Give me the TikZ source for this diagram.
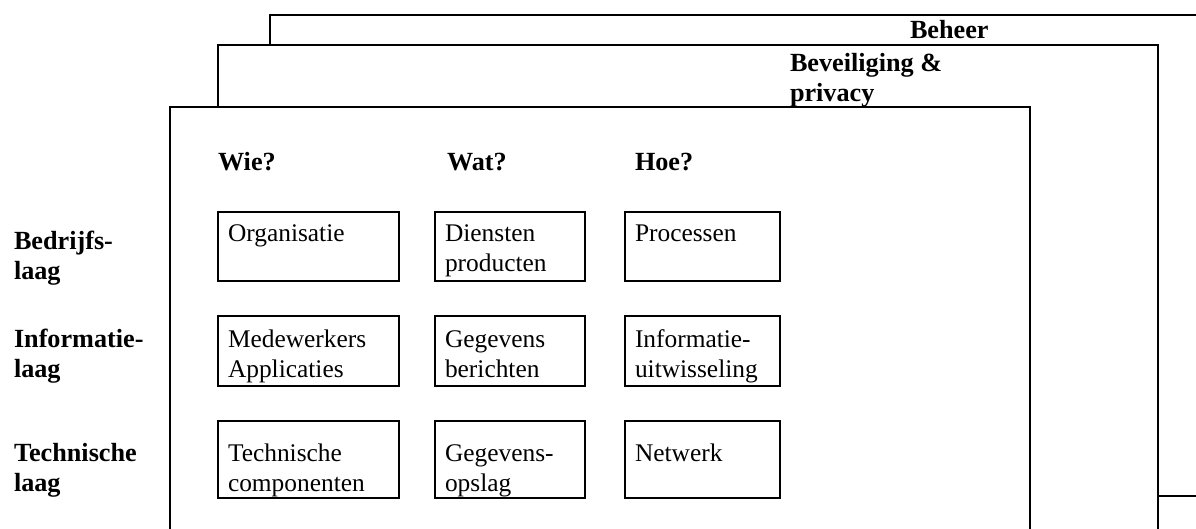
\documentclass[tikz,border=0pt]{standalone}
\usepackage{fontspec}
\setmainfont{Liberation Serif}
\newcommand\st{\rule{0pt}{9.6pt}}
\begin{document}
\begin{tikzpicture}[x=0.5pt,y=-0.5pt,
  frame/.style={draw,line width=1.1pt,fill=white},
  cell/.style={draw,line width=1.1pt,anchor=north west,inner sep=0pt,outer sep=0pt},
  txt/.style={anchor=north west,inner sep=0pt,outer sep=0pt,align=left,font=\fontsize{12.7}{14.7}\selectfont},
  head/.style={txt,font=\fontsize{13.1}{14.7}\selectfont\bfseries},
  w1/.style={minimum width=90.5pt},
  w2/.style={minimum width=75pt},
  w3/.style={minimum width=77.5pt},
  h1/.style={minimum height=34.5pt},
  h2/.style={minimum height=35pt},
  h3/.style={minimum height=38.5pt}]
\useasboundingbox (0,0) rectangle (1196,529);
\clip (0,0) rectangle (1196,529);
% stacked frames
\draw[frame] (270,15) rectangle (1230,496);
\draw[frame] (218,45) rectangle (1158,580);
\draw[frame] (170,107) rectangle (1030,580);
% frame titles
\node[head] (beheer) at (910,19.8) {\st Beheer};
\node[head] (bev) at (790,52.8) {\st Beveiliging \&\\privacy};
% column heads
\node[head] (wie) at (218,151.8) {\st Wie?};
\node[head] (wat) at (447,151.8) {\st Wat?};
\node[head] (hoe) at (635,151.8) {\st Hoe?};
% row heads
\node[head] (r1) at (14,230.8) {\st Bedrijfs-\\laag};
\node[head] (r2) at (14,328.8) {\st Informatie-\\laag};
\node[head] (r3) at (14,442.8) {\st Technische\\laag};
% cells
\node[cell,w1,h1] (c11) at (218,212) {};
\node[cell,w2,h1] (c12) at (435,212) {};
\node[cell,w3,h1] (c13) at (625,212) {};
\node[cell,w1,h2] (c21) at (218,316) {};
\node[cell,w2,h2] (c22) at (435,316) {};
\node[cell,w3,h2] (c23) at (625,316) {};
\node[cell,w1,h3] (c31) at (218,421) {};
\node[cell,w2,h3] (c32) at (435,421) {};
\node[cell,w3,h3] (c33) at (625,421) {};
% cell texts
\node[txt] (t11) at ([shift={(10,10.8)}]c11.north west) {\st Organisatie};
\node[txt] (t12) at ([shift={(10,10.8)}]c12.north west) {\st Diensten\\producten};
\node[txt] (t13) at ([shift={(10,10.8)}]c13.north west) {\st Processen};
\node[txt] (t21) at ([shift={(10,12.8)}]c21.north west) {\st Medewerkers\\Applicaties};
\node[txt] (t22) at ([shift={(10,12.8)}]c22.north west) {\st Gegevens\\berichten};
\node[txt] (t23) at ([shift={(10,12.8)}]c23.north west) {\st Informatie-\\uitwisseling};
\node[txt] (t31) at ([shift={(10,21.8)}]c31.north west) {\st Technische\\componenten};
\node[txt] (t32) at ([shift={(10,21.8)}]c32.north west) {\st Gegevens-\\opslag};
\node[txt] (t33) at ([shift={(10,21.8)}]c33.north west) {\st Netwerk};
\end{tikzpicture}
\end{document}
